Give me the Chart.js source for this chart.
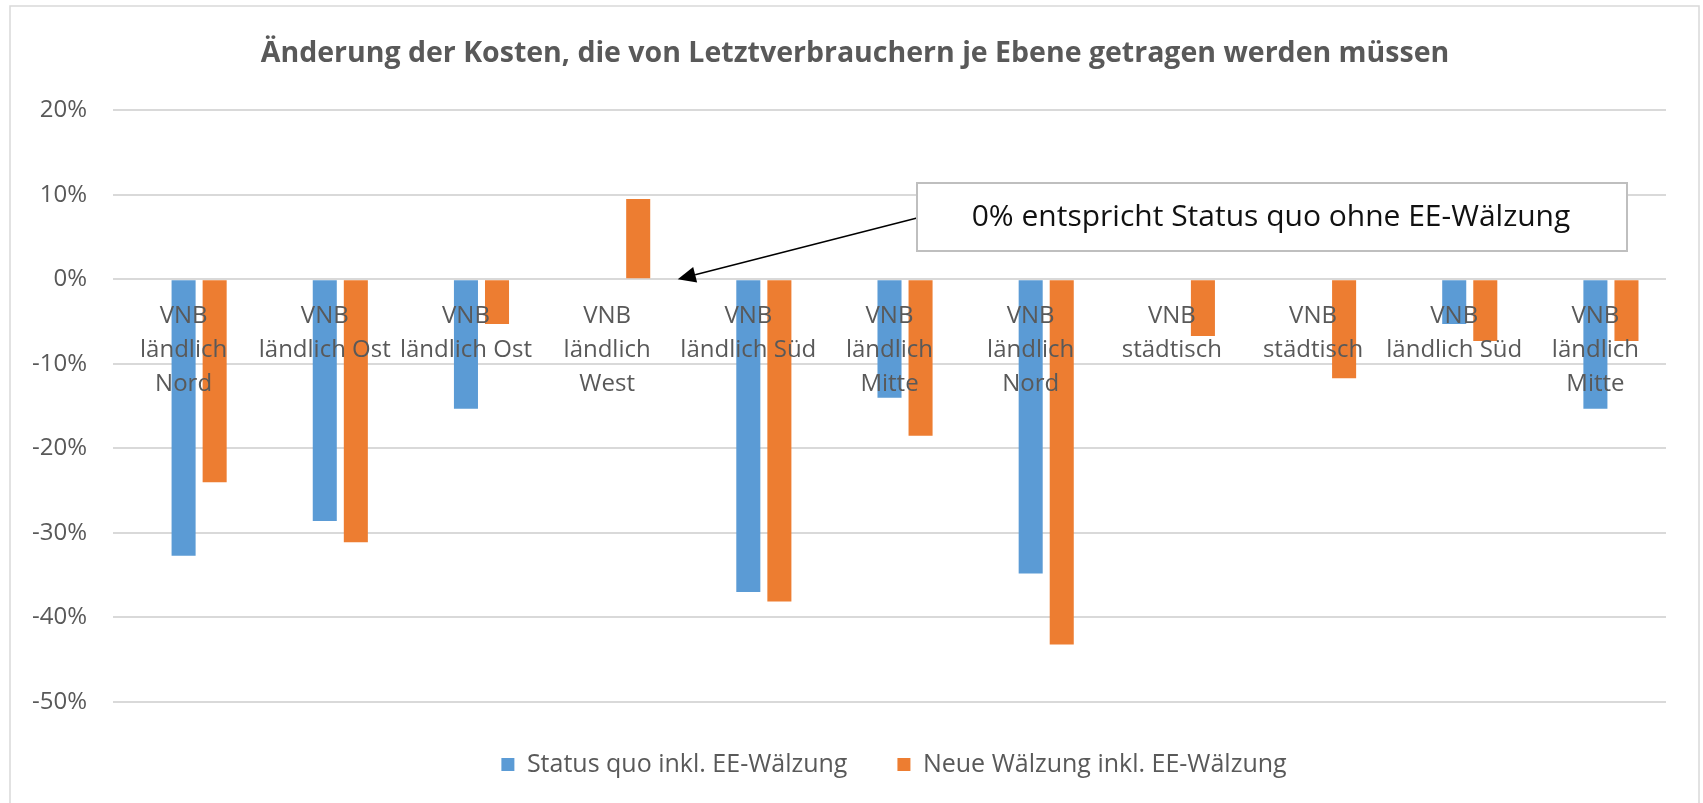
<!DOCTYPE html>
<html>
<head>
<meta charset="utf-8">
<script src="https://cdn.jsdelivr.net/npm/chart.js@4"></script>
<style>
  html, body { margin: 0; padding: 0; background: #fff; }
  #wrap { width: 1703px; height: 803px; }
</style>
</head>
<body>
<div id="wrap"><canvas id="chart" width="1703" height="803"></canvas></div>
<script>
// Kategorien (Netzbetreiber)
const categories = [
    ['VNB', 'ländlich', 'Nord'],
    ['VNB', 'ländlich Ost'],
    ['VNB', 'ländlich Ost'],
    ['VNB', 'ländlich', 'West'],
    ['VNB', 'ländlich Süd'],
    ['VNB', 'ländlich', 'Mitte'],
    ['VNB', 'ländlich', 'Nord'],
    ['VNB', 'städtisch'],
    ['VNB', 'städtisch'],
    ['VNB', 'ländlich Süd'],
    ['VNB', 'ländlich', 'Mitte']
];

// Werte in %
const statusOhneEE = [0, 0, 0, 0, 0, 0, 0, 0, 0, 0, 0];
const statusQuoInklEE = [-32.7, -28.6, -15.3, 0, -37.0, -14.0, -34.8, 0, 0, -5.3, -15.3];
const neueWaelzungInklEE = [-24.0, -31.1, -5.3, 9.5, -38.1, -18.5, -43.2, -6.7, -11.7, -7.3, -7.3];

const yTicks = [-50, -40, -30, -20, -10, 0, 10, 20];

const FONT = "'Open Sans', 'Noto Sans', sans-serif";
const GREY = '#595959';

// Rahmen, Hinweis-Box mit Pfeil, Titel/Legende etwas nach rechts
const extras = {
    id: 'extras',
    afterLayout(chart) {
        chart.titleBlock.left += 22;
        chart.titleBlock.right += 22;
        chart.legend.left += 61;
        chart.legend.right += 61;
    },
    beforeDraw(chart) {
        const ctx = chart.ctx;
        ctx.save();
        ctx.fillStyle = '#fff';
        ctx.fillRect(0, 0, chart.width, chart.height);
        ctx.strokeStyle = '#d9d9d9';
        ctx.lineWidth = 1.5;
        ctx.strokeRect(10, 6, 1689, 820);
        ctx.restore();
    },
    afterDraw(chart) {
        const ctx = chart.ctx;
        const x = chart.scales.x, y = chart.scales.y;
        // Pfeilspitze zwischen Kategorie 4 und 5 auf der 0%-Linie
        const tipX = (x.getPixelForValue(3) + x.getPixelForValue(4)) / 2;
        const tipY = y.getPixelForValue(0);
        const bx = 917, by = 183, bw = 710, bh = 68;
        const sx = bx, sy = 218;

        ctx.save();
        ctx.strokeStyle = '#000';
        ctx.fillStyle = '#000';
        ctx.lineWidth = 1.5;
        const ang = Math.atan2(tipY - sy, tipX - sx);
        const headLen = 18, headW = 8;
        const baseX = tipX - headLen * Math.cos(ang), baseY = tipY - headLen * Math.sin(ang);
        ctx.beginPath();
        ctx.moveTo(sx, sy);
        ctx.lineTo(baseX, baseY);
        ctx.stroke();
        ctx.beginPath();
        ctx.moveTo(tipX, tipY);
        ctx.lineTo(baseX + headW * Math.sin(ang), baseY - headW * Math.cos(ang));
        ctx.lineTo(baseX - headW * Math.sin(ang), baseY + headW * Math.cos(ang));
        ctx.closePath();
        ctx.fill();

        ctx.fillStyle = '#fff';
        ctx.fillRect(bx, by, bw, bh);
        ctx.strokeStyle = '#bfbfbf';
        ctx.lineWidth = 2;
        ctx.strokeRect(bx, by, bw, bh);
        ctx.fillStyle = '#111';
        ctx.font = '30px ' + FONT;
        ctx.textAlign = 'center';
        ctx.textBaseline = 'middle';
        ctx.fillText('0% entspricht Status quo ohne EE-Wälzung', bx + bw / 2 - 1, by + bh / 2);
        ctx.restore();
    }
};

new Chart(document.getElementById('chart'), {
    type: 'bar',
    data: {
        labels: categories,
        datasets: [
            { label: 'Status quo ohne EE-Wälzung', data: statusOhneEE, backgroundColor: '#a5a5a5' },
            { label: 'Status quo inkl. EE-Wälzung', data: statusQuoInklEE, backgroundColor: '#5b9bd5' },
            { label: 'Neue Wälzung inkl. EE-Wälzung', data: neueWaelzungInklEE, backgroundColor: '#ed7d31' }
        ]
    },
    options: {
        responsive: false,
        animation: false,
        devicePixelRatio: 1,
        categoryPercentage: 0.66,
        barPercentage: 0.774,
        layout: { padding: { left: 0, right: 37, top: 0, bottom: 16 } },
        plugins: {
            title: {
                display: true,
                text: 'Änderung der Kosten, die von Letztverbrauchern je Ebene getragen werden müssen',
                color: GREY,
                font: { family: FONT, size: 28.5, weight: 'bold', lineHeight: 1.2 },
                padding: { top: 37, bottom: 39 }
            },
            legend: {
                position: 'bottom',
                labels: {
                    color: GREY,
                    font: { family: FONT, size: 25 },
                    boxWidth: 13,
                    boxHeight: 13,
                    padding: 50,
                    filter: item => item.datasetIndex !== 0
                }
            },
            tooltip: { enabled: false }
        },
        scales: {
            x: {
                position: { y: 0 },
                grid: { display: false, drawTicks: false },
                border: { display: false },
                ticks: {
                    z: 1,
                    color: GREY,
                    font: { family: FONT, size: 24, lineHeight: 1.42 },
                    autoSkip: false,
                    maxRotation: 0,
                    minRotation: 0,
                    padding: 20
                }
            },
            y: {
                min: -50,
                max: 20,
                afterFit: s => { s.width = 113; },
                afterBuildTicks: s => { s.ticks = yTicks.map(v => ({ value: v })); },
                grid: { color: '#d9d9d9', lineWidth: 2, drawTicks: false },
                border: { display: false },
                ticks: {
                    color: GREY,
                    font: { family: FONT, size: 24 },
                    padding: 26,
                    callback: v => v + '%'
                }
            }
        }
    },
    plugins: [extras]
});
</script>
</body>
</html>
